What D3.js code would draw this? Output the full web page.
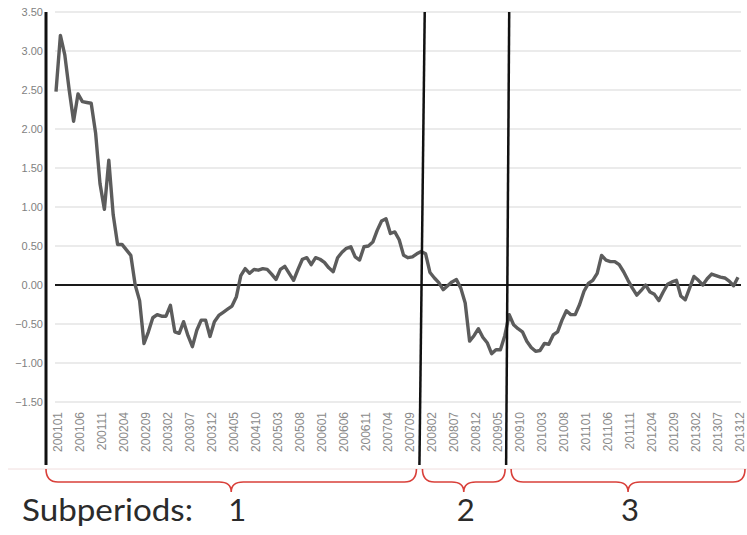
<!DOCTYPE html>
<html>
<head>
<meta charset="utf-8">
<script src="https://cdn.jsdelivr.net/npm/d3@7"></script>
<style>
  html, body { margin: 0; padding: 0; background: #fff; }
  svg { display: block; }
</style>
</head>
<body>
<svg id="chart" width="747" height="535"></svg>
<script>
// ---- data ----
const startYear = 2001, endYear = 2013;
const months = [];
for (let y = startYear; y <= endYear; y++) for (let m = 1; m <= 12; m++) months.push(`${y}${String(m).padStart(2, "0")}`);

const values = [
  2.48, 3.20, 2.95, 2.50, 2.10, 2.45, 2.35, 2.34, 2.33, 1.95, 1.30, 0.97,
  1.60, 0.90, 0.52, 0.52, 0.45, 0.38, 0.00, -0.20, -0.75, -0.60, -0.42, -0.38,
  -0.40, -0.40, -0.26, -0.60, -0.62, -0.47, -0.65, -0.79, -0.58, -0.45, -0.45, -0.66,
  -0.47, -0.39, -0.35, -0.31, -0.27, -0.15, 0.12, 0.21, 0.15, 0.20, 0.19, 0.21,
  0.20, 0.14, 0.07, 0.20, 0.24, 0.15, 0.06, 0.20, 0.33, 0.35, 0.26, 0.35,
  0.33, 0.29, 0.22, 0.17, 0.35, 0.42, 0.47, 0.49, 0.36, 0.32, 0.49, 0.50,
  0.55, 0.70, 0.82, 0.85, 0.66, 0.68, 0.58, 0.38, 0.35, 0.36, 0.40, 0.43,
  0.40, 0.16, 0.09, 0.03, -0.06, -0.01, 0.04, 0.07, -0.04, -0.23, -0.72, -0.65,
  -0.56, -0.67, -0.74, -0.88, -0.83, -0.83, -0.65, -0.38, -0.51, -0.56, -0.60, -0.72,
  -0.80, -0.85, -0.84, -0.75, -0.76, -0.64, -0.60, -0.45, -0.33, -0.38, -0.38, -0.25,
  -0.08, 0.02, 0.06, 0.15, 0.38, 0.32, 0.30, 0.30, 0.26, 0.17, 0.06, -0.04,
  -0.13, -0.07, 0.00, -0.09, -0.12, -0.20, -0.09, 0.01, 0.04, 0.06, -0.14, -0.19,
  -0.04, 0.11, 0.06, 0.00, 0.08, 0.14, 0.12, 0.10, 0.09, 0.05, -0.01, 0.10
];

const tickLabels = [
  "200101","200106","200111","200204","200209","200302","200307","200312",
  "200405","200410","200503","200508","200601","200606","200611","200704",
  "200709","200802","200807","200812","200905","200910","201003","201008",
  "201101","201106","201111","201204","201209","201302","201307","201312"
];

const yTicks = [3.5, 3.0, 2.5, 2.0, 1.5, 1.0, 0.5, 0.0, -0.5, -1.0, -1.5];

// subperiod break lines: [month index at top, month index at bottom]
const breaks = [[83.8, 82.6], [103.0, 102.3]];
const subperiodNames = ["1", "2", "3"];
const subperiodTitle = "Subperiods:";

// ---- chart ----
const svg = d3.select("#chart");
const xi = d3.scaleLinear().domain([0, months.length - 1]).range([56, 738]);
const x = d3.scalePoint().domain(months).range([56, 738]);
const y = d3.scaleLinear().domain([-1.5, 3.5]).range([402, 12]);
const plotLeft = 55, plotRight = 741, axisBottom = 465;

// gridlines
svg.append("g").selectAll("line").data(yTicks).join("line")
  .attr("x1", plotLeft).attr("x2", plotRight)
  .attr("y1", d => y(d)).attr("y2", d => y(d))
  .attr("stroke", "#e4e4e4").attr("stroke-width", 1.5);

// y tick labels
svg.append("g").selectAll("text").data(yTicks).join("text")
  .attr("x", 43).attr("y", d => y(d)).attr("dy", "0.35em")
  .attr("text-anchor", "end")
  .attr("font-family", "Liberation Sans, Arial, sans-serif")
  .attr("font-size", 11).attr("fill", "#7f7f7f")
  .text(d => d3.format(".2f")(d));

// bottom light border
svg.append("line").attr("x1", 8).attr("x2", 747).attr("y1", 469).attr("y2", 469)
  .attr("stroke", "#f0dede").attr("stroke-width", 1);

// x tick labels (vertical)
svg.append("g").selectAll("text").data(tickLabels).join("text")
  .attr("transform", d => `translate(${x(d) + 2},${412}) rotate(-90)`)
  .attr("dy", "0.35em")
  .attr("text-anchor", "end")
  .attr("font-family", "Liberation Sans, Arial, sans-serif")
  .attr("font-size", 12).attr("fill", "#8a8a8a")
  .text(d => d);

// zero line
svg.append("line").attr("x1", plotLeft).attr("x2", plotRight)
  .attr("y1", y(0)).attr("y2", y(0))
  .attr("stroke", "#1a1a1a").attr("stroke-width", 2);

// data line
svg.append("path").datum(values)
  .attr("fill", "none").attr("stroke", "#5c5c5c").attr("stroke-width", 3.4)
  .attr("stroke-linejoin", "round")
  .attr("d", d3.line().x((d, i) => x(months[i])).y(d => y(d)));

// y axis line
svg.append("line").attr("x1", 46).attr("x2", 46).attr("y1", 12).attr("y2", axisBottom)
  .attr("stroke", "#111").attr("stroke-width", 3);

// break lines
svg.append("g").selectAll("line").data(breaks).join("line")
  .attr("x1", d => xi(d[0])).attr("y1", 12)
  .attr("x2", d => xi(d[1])).attr("y2", axisBottom)
  .attr("stroke", "#111").attr("stroke-width", 2.5);

// braces
const spans = [
  [46, xi(breaks[0][1]) - 3],
  [xi(breaks[0][1]) + 3, xi(breaks[1][1]) - 1],
  [xi(breaks[1][1]) + 5, 745]
];
const y0 = 469, y1 = 482, y2 = 492, r = 12;
function brace(a, b) {
  const m = (a + b) / 2;
  return `M${a},${y0} Q${a},${y1} ${a + r},${y1} L${m - r},${y1} Q${m},${y1} ${m},${y2}` +
         ` Q${m},${y1} ${m + r},${y1} L${b - r},${y1} Q${b},${y1} ${b},${y0}`;
}
svg.append("g").selectAll("path").data(spans).join("path")
  .attr("d", d => brace(d[0], d[1]))
  .attr("fill", "none").attr("stroke", "#d9403a").attr("stroke-width", 1.6);

// subperiod labels
svg.append("text").attr("x", 22).attr("y", 521)
  .attr("font-family", "Lato, Open Sans, sans-serif").attr("font-size", 31).attr("fill", "#2b2b2b")
  .attr("textLength", 171).attr("lengthAdjust", "spacingAndGlyphs")
  .text(subperiodTitle);
svg.append("g").selectAll("text").data(spans).join("text")
  .attr("x", (d, i) => (d[0] + d[1]) / 2 + (i === 0 ? 6 : 2)).attr("y", 521)
  .attr("text-anchor", "middle")
  .attr("font-family", "Lato, Open Sans, sans-serif").attr("font-size", 31).attr("fill", "#2b2b2b")
  .text((d, i) => subperiodNames[i]);
</script>
</body>
</html>
